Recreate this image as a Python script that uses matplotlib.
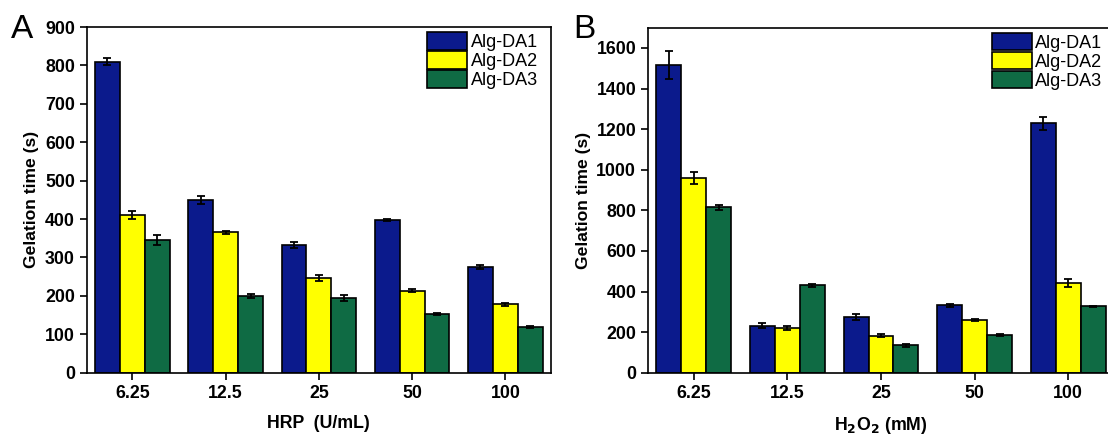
import matplotlib
matplotlib.use("Agg")
import matplotlib.pyplot as plt
import numpy as np

plt.rcParams['font.family'] = ['Liberation Sans', 'DejaVu Sans']

categories = ["6.25", "12.5", "25", "50", "100"]
series_names = ["Alg-DA1", "Alg-DA2", "Alg-DA3"]
colors = ["#0b1a8c", "#ffff00", "#0f6b44"]

# Panel A: HRP
a_da1 = [810, 450, 333, 398, 276]
a_da1_err = [10, 10, 8, 3, 5]
a_da2 = [410, 365, 247, 213, 178]
a_da2_err = [10, 5, 8, 4, 4]
a_da3 = [345, 200, 194, 152, 119]
a_da3_err = [13, 5, 7, 3, 3]

# Panel B: H2O2
b_da1 = [1515, 232, 275, 332, 1228]
b_da1_err = [70, 12, 15, 8, 30]
b_da2 = [960, 220, 183, 258, 440]
b_da2_err = [30, 10, 8, 5, 20]
b_da3 = [815, 430, 135, 185, 328]
b_da3_err = [12, 8, 6, 6, 3]

W, H = 1108, 437
fig = plt.figure(figsize=(W / 100, H / 100), dpi=100)

def px_rect(x0, x1, ytop, ybot):
    return [x0 / W, 1 - ybot / H, (x1 - x0) / W, (ybot - ytop) / H]

axA = fig.add_axes(px_rect(86.7, 551, 27, 372.7))
axB = fig.add_axes(px_rect(648, 1114, 27.7, 372.7))

def draw(ax, vals, errs, ylim, yticks, xlabel, leg_anchor):
    x = np.arange(len(categories))
    w = 0.267
    for i, (v, e) in enumerate(zip(vals, errs)):
        ax.bar(x + (i - 1) * w, v, width=w, color=colors[i], edgecolor="black",
               linewidth=1.2, yerr=e, capsize=3,
               error_kw=dict(ecolor="black", elinewidth=1.3, capthick=1.3),
               label=series_names[i], zorder=2)
    ax.set_xlim(-0.49, 4.49)
    ax.set_ylim(*ylim)
    ax.set_yticks(yticks)
    ax.set_xticks(x)
    ax.set_xticklabels(categories)
    for s in ax.spines.values():
        s.set_linewidth(1.2)
    ax.tick_params(direction="out", length=5, width=1.2, labelsize=12.8, pad=3.5)
    for lab in ax.get_xticklabels() + ax.get_yticklabels():
        lab.set_fontweight("bold")
    ax.set_ylabel("Gelation time (s)", fontsize=12.6, fontweight="bold", labelpad=4)
    ax.set_xlabel(xlabel, fontsize=12.8, fontweight="bold", labelpad=10)
    ax.legend(loc="upper left", bbox_to_anchor=leg_anchor, frameon=False,
              fontsize=13, handlelength=2.2, handleheight=1.12, labelspacing=0,
              handletextpad=0.2, borderpad=0, borderaxespad=0)

draw(axA, [a_da1, a_da2, a_da3], [a_da1_err, a_da2_err, a_da3_err],
     (0, 900), np.arange(0, 901, 100), "HRP  (U/mL)", (0.734, 0.985))
draw(axB, [b_da1, b_da2, b_da3], [b_da1_err, b_da2_err, b_da3_err],
     (0, 1700), np.arange(0, 1601, 200), "H$_\\mathbf{2}$O$_\\mathbf{2}$ (mM)", (0.738, 0.985))

fig.text(11 / W, 1 - 38 / H, "A", fontsize=24)
fig.text(573 / W, 1 - 38 / H, "B", fontsize=24)

fig.savefig("out.png", dpi=100)
